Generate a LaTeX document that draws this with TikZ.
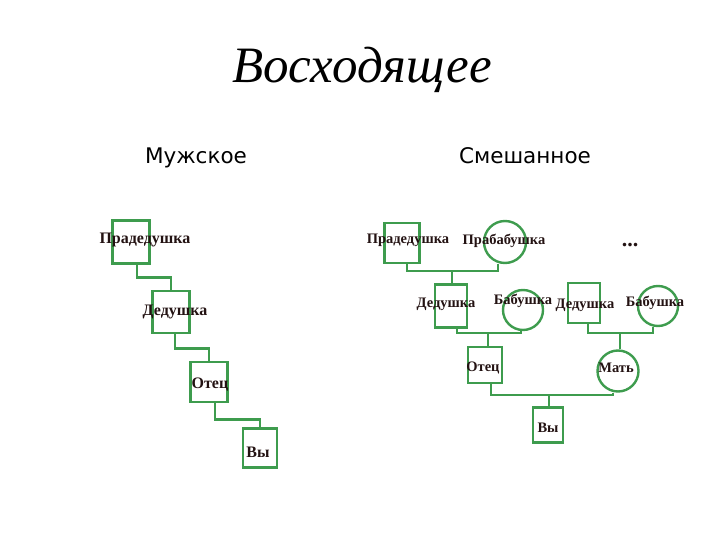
\documentclass[tikz,border=0pt]{standalone}
\usepackage{fontspec}
\setmainfont{Liberation Serif}
\newfontfamily\headfont{DejaVu Sans}
\definecolor{tree}{RGB}{62,156,78}
\definecolor{ink}{RGB}{35,18,18}
\begin{document}
\begin{tikzpicture}[x=1pt,y=-1pt,
  box/.style={draw=tree,line width=2.4pt,minimum width=#1,inner sep=0pt},
  circ/.style={draw=tree,line width=2.4pt,circle,minimum size=#1,inner sep=0pt},
  conn/.style={draw=tree,line width=2.6pt},
  lbig/.style={font=\fontsize{16}{18}\selectfont\bfseries,text=ink,inner sep=0pt},
  lsm/.style={font=\fontsize{14.5}{16}\selectfont\bfseries,text=ink,inner sep=0pt},
  head/.style={font=\headfont\fontsize{21.5}{24}\selectfont,inner sep=0pt}]
\path[use as bounding box] (0,0) rectangle (720,540);
% title
\node[font=\fontsize{51}{55}\selectfont\itshape,inner sep=0pt,anchor=base] (title) at (362,83) {Восходящее};
\node[head,anchor=base] (male) at (196,164) {Мужское};
\node[head,anchor=base] (mixed) at (525,164) {Смешанное};
% left chain
\node[box=37pt,minimum height=43pt] (lb1) at (131,242) {};
\node[box=37pt,minimum height=42pt] (lb2) at (171,312) {};
\node[box=37pt,minimum height=40pt] (lb3) at (209,382) {};
\node[box=34pt,minimum height=39pt] (lb4) at (260,448) {};
\draw[conn] ([xshift=6pt]lb1.south) -- ++(0,13) -| (lb2.north);
\draw[conn] ([xshift=4pt]lb2.south) -- ++(0,14) -| (lb3.north);
\draw[conn] ([xshift=6pt]lb3.south) -- ++(0,16) -| (lb4.north);
\node[lbig] (ll1) at (145,240) {Прадедушка};
\node[lbig] (ll2) at (175,312) {Дедушка};
\node[lbig] (ll3) at (210,385) {Отец};
\node[lbig] (ll4) at (258,452) {Вы};
% right tree
\node[box=35pt,minimum height=40pt] (rb1) at (402,243) {};
\node[circ=42pt] (rc1) at (505,242) {};
\node[box=32pt,minimum height=43pt] (rb2) at (451,306) {};
\node[circ=40pt] (rc2) at (523,310) {};
\node[box=32pt,minimum height=40pt] (rb4) at (584,303) {};
\node[circ=40pt] (rc4) at (658,306) {};
\node[box=34pt,minimum height=36pt] (rb3) at (485,365) {};
\node[circ=41pt] (rc5) at (618,371) {};
\node[box=30pt,minimum height=35pt] (rb5) at (548,425) {};
\coordinate (j1) at (452,271);
\coordinate (j2) at (488,333);
\coordinate (j3) at (620,333);
\coordinate (j4) at (549,395);
\draw[conn] ([xshift=5pt]rb1.south) |- (j1) -| ([xshift=-7pt]rc1.south);
\draw[conn] (j1) -- (j1 |- rb2.north);
\draw[conn] ([xshift=6pt]rb2.south) |- (j2) -| ([xshift=-2pt]rc2.south);
\draw[conn] (j2) -- (j2 |- rb3.north);
\draw[conn] ([xshift=4pt]rb4.south) |- (j3) -| ([xshift=-5pt]rc4.south);
\draw[conn] (j3) -- (j3 |- rc5.north);
\draw[conn] ([xshift=6pt]rb3.south) |- (j4) -| ([xshift=-5pt]rc5.south);
\draw[conn] (j4) -- (j4 |- rb5.north);
\node[lsm] (rl1) at (408,240) {Прадедушка};
\node[lsm] (rl2) at (504,241) {Прабабушка};
\node[lsm] (rl3) at (446,304) {Дедушка};
\node[lsm] (rl4) at (523,301) {Бабушка};
\node[lsm] (rl5) at (585,305) {Дедушка};
\node[lsm] (rl6) at (655,303) {Бабушка};
\node[lsm] (rl7) at (483,368) {Отец};
\node[lsm] (rl8) at (616,368) {Мать};
\node[lsm] (rl9) at (548,428) {Вы};
\node[font=\fontsize{22}{24}\selectfont\bfseries,text=ink,inner sep=0pt,anchor=base] (dots) at (630,247) {...};
\end{tikzpicture}
\end{document}
